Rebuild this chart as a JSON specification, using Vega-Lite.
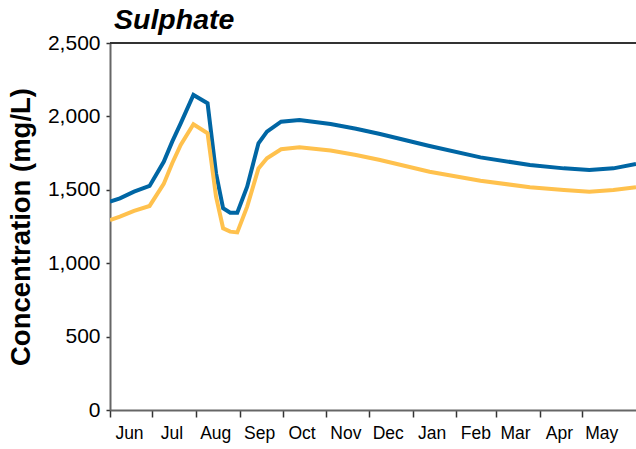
{
  "$schema": "https://vega.github.io/schema/vega-lite/v6.json",
  "width": 526,
  "height": 367,
  "autosize": {"type": "none"},
  "padding": {"left": 110, "top": 43, "right": 0, "bottom": 39},
  "title": {"text": "Sulphate", "anchor": "start", "frame": "group", "font": "Liberation Sans", "fontSize": 28.5, "fontWeight": "bold", "fontStyle": "italic", "color": "#000000", "offset": -31, "baseline": "bottom", "dx": 4},
  "config": {"view": {"stroke": null}, "font": "Liberation Sans"},
  "data": {"values": [
    {"date": "2022-06-01", "series": "Blue", "value": 1419},
    {"date": "2022-06-08", "series": "Blue", "value": 1442},
    {"date": "2022-06-18", "series": "Blue", "value": 1487},
    {"date": "2022-06-29", "series": "Blue", "value": 1526},
    {"date": "2022-07-09", "series": "Blue", "value": 1691},
    {"date": "2022-07-15", "series": "Blue", "value": 1828},
    {"date": "2022-07-21", "series": "Blue", "value": 1953},
    {"date": "2022-07-30", "series": "Blue", "value": 2146},
    {"date": "2022-08-09", "series": "Blue", "value": 2089},
    {"date": "2022-08-15", "series": "Blue", "value": 1612},
    {"date": "2022-08-20", "series": "Blue", "value": 1374},
    {"date": "2022-08-25", "series": "Blue", "value": 1344},
    {"date": "2022-08-30", "series": "Blue", "value": 1344},
    {"date": "2022-09-06", "series": "Blue", "value": 1521},
    {"date": "2022-09-14", "series": "Blue", "value": 1817},
    {"date": "2022-09-20", "series": "Blue", "value": 1896},
    {"date": "2022-09-30", "series": "Blue", "value": 1964},
    {"date": "2022-10-13", "series": "Blue", "value": 1975},
    {"date": "2022-11-04", "series": "Blue", "value": 1948},
    {"date": "2022-11-22", "series": "Blue", "value": 1916},
    {"date": "2022-12-09", "series": "Blue", "value": 1880},
    {"date": "2023-01-13", "series": "Blue", "value": 1798},
    {"date": "2023-02-18", "series": "Blue", "value": 1721},
    {"date": "2023-03-25", "series": "Blue", "value": 1669},
    {"date": "2023-04-18", "series": "Blue", "value": 1646},
    {"date": "2023-05-06", "series": "Blue", "value": 1635},
    {"date": "2023-05-23", "series": "Blue", "value": 1646},
    {"date": "2023-06-08", "series": "Blue", "value": 1676},
    {"date": "2022-06-01", "series": "Yellow", "value": 1294},
    {"date": "2022-06-08", "series": "Yellow", "value": 1317},
    {"date": "2022-06-18", "series": "Yellow", "value": 1356},
    {"date": "2022-06-29", "series": "Yellow", "value": 1390},
    {"date": "2022-07-09", "series": "Yellow", "value": 1540},
    {"date": "2022-07-15", "series": "Yellow", "value": 1681},
    {"date": "2022-07-21", "series": "Yellow", "value": 1805},
    {"date": "2022-07-30", "series": "Yellow", "value": 1946},
    {"date": "2022-08-09", "series": "Yellow", "value": 1885},
    {"date": "2022-08-15", "series": "Yellow", "value": 1453},
    {"date": "2022-08-20", "series": "Yellow", "value": 1238},
    {"date": "2022-08-25", "series": "Yellow", "value": 1215},
    {"date": "2022-08-30", "series": "Yellow", "value": 1210},
    {"date": "2022-09-06", "series": "Yellow", "value": 1385},
    {"date": "2022-09-14", "series": "Yellow", "value": 1646},
    {"date": "2022-09-20", "series": "Yellow", "value": 1715},
    {"date": "2022-09-30", "series": "Yellow", "value": 1776},
    {"date": "2022-10-13", "series": "Yellow", "value": 1789},
    {"date": "2022-11-04", "series": "Yellow", "value": 1767},
    {"date": "2022-11-22", "series": "Yellow", "value": 1737},
    {"date": "2022-12-09", "series": "Yellow", "value": 1703},
    {"date": "2023-01-13", "series": "Yellow", "value": 1623},
    {"date": "2023-02-18", "series": "Yellow", "value": 1562},
    {"date": "2023-03-25", "series": "Yellow", "value": 1517},
    {"date": "2023-04-18", "series": "Yellow", "value": 1499},
    {"date": "2023-05-06", "series": "Yellow", "value": 1487},
    {"date": "2023-05-23", "series": "Yellow", "value": 1499},
    {"date": "2023-06-08", "series": "Yellow", "value": 1517}
  ]},
  "layer": [
    {
      "mark": {"type": "line", "strokeWidth": 4, "clip": true},
      "encoding": {
        "x": {
          "field": "date", "type": "temporal",
          "scale": {"domain": ["2022-06-01", "2023-06-08"]},
          "axis": {
            "title": null, "format": "%b",
            "values": ["2022-06-01", "2022-07-01", "2022-08-01", "2022-09-01", "2022-10-01", "2022-11-01", "2022-12-01", "2023-01-01", "2023-02-01", "2023-03-01", "2023-04-01", "2023-05-01"],
            "labelAlign": "center", "labelOffset": 19, "labelFontSize": 17.5, "labelColor": "#000000",
            "labelPadding": 7, "tickSize": 7, "tickColor": "#333333", "tickWidth": 1.5,
            "domainColor": "#666666", "domainWidth": 2, "grid": false, "labelFlush": false, "labelOverlap": false
          }
        },
        "y": {
          "field": "value", "type": "quantitative",
          "scale": {"domain": [0, 2500], "nice": false},
          "axis": {
            "title": "Concentration (mg/L)", "titleFontSize": 27.5, "titleFontWeight": "bold", "titleColor": "#000000", "titlePadding": 12,
            "values": [0, 500, 1000, 1500, 2000, 2500], "format": ",.0f",
            "labelFontSize": 21, "labelColor": "#000000", "labelPadding": 6,
            "tickSize": 4, "tickColor": "#333333", "tickWidth": 1.5,
            "domainColor": "#666666", "domainWidth": 2, "grid": false
          }
        },
        "color": {"field": "series", "type": "nominal", "scale": {"domain": ["Blue", "Yellow"], "range": ["#0066A4", "#FFC14D"]}, "legend": null}
      }
    },
    {
      "mark": {"type": "rule", "color": "#333333", "strokeWidth": 2},
      "encoding": {"y": {"datum": 2500, "type": "quantitative"}}
    }
  ]
}
